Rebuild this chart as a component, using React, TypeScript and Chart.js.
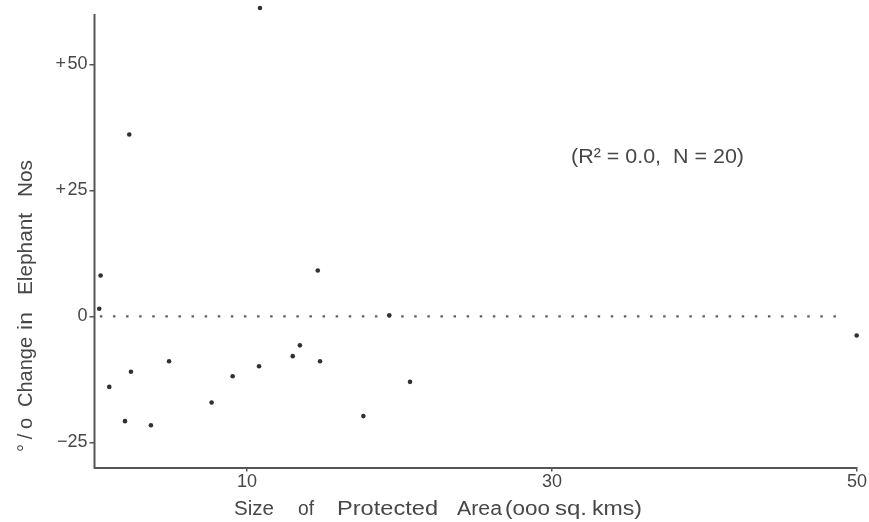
import React, { useEffect, useRef } from "react";
import { Chart, registerables } from "chart.js";

Chart.register(...registerables);

// Size of each protected area (thousand sq. km) and the % change in its elephant numbers
const areaSizes = [10.85, 2.28, 0.4, 0.31, 13.0, 13.47, 0.97, 2.39, 2.0, 3.7, 4.89, 7.68, 9.06, 10.79, 14.79, 17.63, 19.33, 20.69, 14.64, 49.98];
const elephantChange = [61.2, 36.1, 8.1, 1.5, -7.9, -5.75, -14.0, -11.0, -20.8, -21.6, -8.9, -17.1, -11.9, -9.9, -8.9, -19.8, 0.2, -13.0, 9.1, -3.8];

// Axis ticks
const xTickValues = [10, 30, 50];
const yTickValues = [-25, 0, 25, 50];
const yAxisTop = 60;

// Dotted zero-change reference line (x extent)
const zeroLineX = [0.35, 49.0];

// Text
const xTitleWords = ["Size", "of", "Protected", "Area", "(ooo", "sq.", "kms)"];
const yTitleWords = ["°/o", "Change", "in", "Elephant", "Nos"];
const statsNote = "(R² = 0.0,  N = 20)";

const FONT = "'Liberation Sans', Arial, sans-serif";
const TEXT = "#474747";
const AXIS = "#555555";

// word placement along the axis titles: [start, end] in canvas pixels
const X_TITLE_SPANS: [number, number][] = [
  [234, 274], [298, 314], [337, 438], [457, 502], [505, 550], [555, 587], [592, 642],
];
const Y_TITLE_SPANS: [number, number][] = [
  [452, 418], [407, 337], [330, 312], [295, 213], [197, 160],
];

function fitWord(ctx: CanvasRenderingContext2D, w: string, len: number) {
  const m = ctx.measureText(w).width;
  if (w.length > 1 && len > m * 1.3) {
    // widen by spacing the glyphs rather than stretching them
    const sp = (len - m) / (w.length - 1);
    let x = 0;
    for (const ch of w) {
      ctx.fillText(ch, x, 0);
      x += ctx.measureText(ch).width + sp;
    }
  } else {
    ctx.scale(len / m, 1);
    ctx.fillText(w, 0, 0);
  }
}

const titlePlugin = {
  id: "hand-set-titles",
  beforeDatasetsDraw(chart: any) {
    // vertical axis line, ending at the top tick range
    const ctx: CanvasRenderingContext2D = chart.ctx;
    const y = chart.scales.y;
    const x0 = chart.chartArea.left;
    ctx.save();
    ctx.strokeStyle = AXIS;
    ctx.lineWidth = 2;
    ctx.beginPath();
    ctx.moveTo(x0, y.getPixelForValue(yAxisTop));
    ctx.lineTo(x0, chart.chartArea.bottom + 1);
    ctx.stroke();
    ctx.restore();
  },
  afterDraw(chart: any) {
    const ctx: CanvasRenderingContext2D = chart.ctx;
    ctx.save();
    ctx.fillStyle = TEXT;
    ctx.textAlign = "left";
    ctx.textBaseline = "alphabetic";

    ctx.font = `20px ${FONT}`;
    xTitleWords.forEach((w, i) => {
      const [a, b] = X_TITLE_SPANS[i];
      ctx.save();
      ctx.translate(a, 515);
      fitWord(ctx, w, b - a);
      ctx.restore();
    });

    yTitleWords.forEach((w, i) => {
      const [a, b] = Y_TITLE_SPANS[i];
      ctx.save();
      ctx.translate(32, a);
      ctx.rotate(-Math.PI / 2);
      fitWord(ctx, w, a - b);
      ctx.restore();
    });

    ctx.save();
    ctx.translate(571, 163);
    fitWord(ctx, statsNote, 744 - 571);
    ctx.restore();

    ctx.restore();
  },
};

const formatY = (v: number) => (v > 0 ? `+\u200A${v}` : v < 0 ? `\u2212${-v}` : "0");

export default function App() {
  const canvasRef = useRef<HTMLCanvasElement | null>(null);

  useEffect(() => {
    const canvas = canvasRef.current;
    if (!canvas) return;

    const points = areaSizes.map((x, i) => ({ x, y: elephantChange[i] }));
    const zeroLine = zeroLineX.map((x) => ({ x, y: 0 }));

    const chart = new Chart(canvas, {
      type: "scatter",
      data: {
        datasets: [
          {
            label: "Protected areas",
            data: points,
            pointRadius: 2.3,
            pointBackgroundColor: "#303030",
            pointBorderWidth: 0,
            clip: false as any,
          },
          {
            type: "line" as any,
            label: "No change",
            data: zeroLine,
            borderColor: "#606060",
            borderWidth: 2.3,
            borderDash: [2.5, 10.6],
            pointRadius: 0,
            fill: false,
          },
        ],
      },
      options: {
        animation: false,
        responsive: false,
        maintainAspectRatio: false,
        layout: { padding: { left: 0, top: 2.3, right: 12, bottom: 0 } },
        plugins: {
          legend: { display: false },
          tooltip: { enabled: false },
        },
        scales: {
          x: {
            type: "linear",
            position: "bottom",
            min: 0,
            max: 50,
            afterFit: (s: any) => {
              s.height = 54.5;
              s.paddingLeft = 0;
              s.paddingRight = 0;
            },
            afterBuildTicks: (s: any) => {
              s.ticks = xTickValues.map((value) => ({ value }));
            },
            grid: {
              drawOnChartArea: false,
              drawTicks: true,
              tickLength: 4,
              color: AXIS,
              lineWidth: 1.5,
            },
            border: { display: true, color: AXIS, width: 2 },
            ticks: {
              color: TEXT,
              font: { family: FONT, size: 18 },
              padding: 0,
              maxRotation: 0,
              autoSkip: false,
              callback: (v: any) => String(v),
            },
          },
          y: {
            type: "linear",
            min: -30,
            max: 62,
            afterFit: (s: any) => {
              s.width = 94.5;
              s.paddingTop = 0;
              s.paddingBottom = 0;
            },
            afterBuildTicks: (s: any) => {
              s.ticks = yTickValues.map((value) => ({ value }));
            },
            grid: {
              drawOnChartArea: false,
              drawTicks: true,
              tickLength: 5,
              color: AXIS,
              lineWidth: 1.5,
            },
            border: { display: false },
            ticks: {
              color: TEXT,
              font: { family: FONT, size: 18 },
              padding: 2,
              autoSkip: false,
              callback: (v: any) => formatY(Number(v)),
            },
          },
        },
      },
      plugins: [titlePlugin],
    });

    return () => chart.destroy();
  }, []);

  return (
    <div style={{ position: "fixed", left: 0, top: 0, width: 869, height: 522, background: "#ffffff" }}>
      <canvas ref={canvasRef} width={869} height={522} style={{ width: 869, height: 522, display: "block" }} />
    </div>
  );
}
